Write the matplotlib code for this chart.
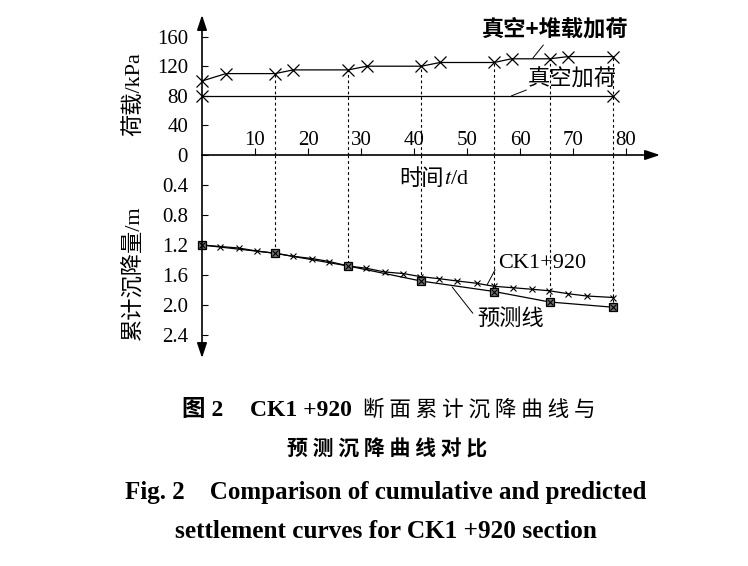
import numpy as np
import matplotlib
matplotlib.use("Agg")
import matplotlib.pyplot as plt

plt.rcParams["font.family"] = ["Liberation Serif", "Noto Sans CJK SC"]
plt.rcParams["mathtext.fontset"] = "stix"

# load curves (kPa)
surcharge_t = [0, 4.5, 13.8, 17.2, 27.6, 31.1, 41.4, 44.9, 55.1, 58.4, 65.6, 69.1, 77.6]
surcharge_p = [100, 110, 110, 115, 115, 120, 120, 125, 125, 130, 130, 133, 133]
vacuum_t = [0, 77.6]
vacuum_p = [80, 80]

# measured settlement CK1+920 (m)
meas_t = [0, 3.4, 6.9, 10.3, 13.8, 17.1, 20.7, 24.0, 27.6, 31.0, 34.5, 37.9,
          41.1, 44.8, 48.2, 51.8, 55.0, 58.7, 62.2, 65.5, 69.1, 72.6, 77.6]
meas_s = [1.20, 1.22, 1.24, 1.28, 1.31, 1.35, 1.38, 1.42, 1.48, 1.51, 1.56, 1.58,
          1.62, 1.65, 1.68, 1.71, 1.75, 1.77, 1.79, 1.81, 1.85, 1.88, 1.90]

# predicted settlement (m)
pred_t = [0, 13.8, 27.6, 41.3, 55.1, 65.6, 77.6]
pred_s = [1.20, 1.31, 1.48, 1.68, 1.82, 1.96, 2.03]

x_ticks = [10, 20, 30, 40, 50, 60, 70, 80]
p_ticks = [0, 40, 80, 120, 160]
s_ticks = [0.4, 0.8, 1.2, 1.6, 2.0, 2.4]

W, H = 748, 566
fig = plt.figure(figsize=(W / 100, H / 100), dpi=100)

x0, x1 = 202, 660
ax1 = fig.add_axes([x0 / W, 1 - 155 / H, (x1 - x0) / W, 140 / H])
ax2 = fig.add_axes([x0 / W, 1 - 358 / H, (x1 - x0) / W, 203 / H])

for ax in (ax1, ax2):
    ax.set_xlim(0, (x1 - x0) / 5.3)
    for s in ax.spines.values():
        s.set_visible(False)
    ax.patch.set_alpha(0)

ax1.set_ylim(0, 140 / 0.74)
ax2.set_ylim(203 / 75, 0)

# axis lines with arrow heads
arrow = dict(arrowstyle="-|>,head_length=0.9,head_width=0.3", color="k", lw=1.2,
             shrinkA=0, shrinkB=0)
ax1.annotate("", xy=(1, 0), xytext=(0, 0), xycoords="axes fraction", arrowprops=arrow)
ax1.annotate("", xy=(0, 1), xytext=(0, 0), xycoords="axes fraction", arrowprops=arrow)
ax2.annotate("", xy=(0, 0), xytext=(0, 1), xycoords="axes fraction", arrowprops=arrow)

# ticks
ax1.set_xticks(x_ticks)
ax1.tick_params(axis="x", direction="in", length=5, pad=-17, labelsize=15)
ax1.set_yticks(p_ticks)
ax1.tick_params(axis="y", direction="in", length=4, pad=10, labelsize=15)
ax2.set_xticks([])
ax2.set_yticks(s_ticks)
ax2.set_yticklabels([f"{v:.1f}" for v in s_ticks])
ax2.tick_params(axis="y", direction="in", length=4, pad=10, labelsize=15)

# load curves
ax1.plot(surcharge_t, surcharge_p, color="k", lw=0.9, marker="x", ms=8, mew=0.9, clip_on=False)
ax1.plot(vacuum_t, vacuum_p, color="k", lw=0.9, marker="x", ms=8, mew=0.9, clip_on=False)

# dashed guides
guide_t = pred_t[1:]
ax1.vlines(guide_t, 0, np.interp(guide_t, surcharge_t, surcharge_p),
           colors="k", linestyles=(0, (2.5, 2.5)), lw=0.8)
ax2.vlines(guide_t, 0, pred_s[1:], colors="k", linestyles=(0, (2.5, 2.5)), lw=0.8)

# settlement curves
ax2.plot(meas_t, meas_s, color="k", lw=0.9, marker="x", ms=4, mew=0.8, clip_on=False)
ax2.plot(pred_t, pred_s, color="k", lw=0.9, marker="s", ms=6, mfc="0.45", mec="k",
         mew=0.9, clip_on=False)
ax2.plot(pred_t, pred_s, ls="none", marker="x", ms=5, color="k", mew=0.8, clip_on=False)

# labels and leader lines
line = dict(arrowstyle="-", color="k", lw=0.7, shrinkA=0, shrinkB=0)
ax1.text(52.8, 170, "真空+堆载加荷", fontsize=16, fontweight="bold", ha="left", va="center",
         family=["Noto Sans CJK SC"])
ax1.annotate("", xy=(62.4, 130.7), xytext=(64.4, 148.6), arrowprops=line)
ax1.text(61.5, 101, "真空加荷", fontsize=16, ha="left", va="center")
ax1.annotate("", xy=(58.4, 80), xytext=(61.2, 87.8), arrowprops=line)
ax2.text(55.8, 1.44, "CK1+920", fontsize=16, ha="left", va="center")
ax2.annotate("", xy=(53.8, 1.73), xytext=(55.3, 1.53), arrowprops=line)
ax2.text(51.9, 2.2, "预测线", fontsize=16, ha="left", va="center")
ax2.annotate("", xy=(47.2, 1.76), xytext=(51.1, 2.11), arrowprops=line)
ax2.text(45.7, 0.33, "时间", fontsize=16, ha="right", va="center")
ax2.text(45.7, 0.33, "$t$/d", fontsize=16, ha="left", va="center")

fig.text(134 / W, 1 - 94 / H, "荷载/kPa", rotation=90, ha="center", va="center", fontsize=16)
fig.text(134 / W, 1 - 273 / H, "累计沉降量/m", rotation=90, ha="center", va="center", fontsize=16)

# captions
fig.text(182 / W, 1 - 410 / H, "图 2", ha="left", va="center", fontsize=17, fontweight="bold")
fig.text(250 / W, 1 - 410 / H, "CK1 +920", ha="left", va="center", fontsize=17, fontweight="bold")
fig.text(363 / W, 1 - 410 / H, "断 面 累 计 沉 降 曲 线 与", ha="left", va="center",
         fontsize=15.5, family=["Noto Sans CJK SC"])
fig.text(387 / W, 1 - 449 / H, "预 测 沉 降 曲 线 对 比", ha="center", va="center",
         fontsize=15, fontweight="bold", family=["Noto Sans CJK SC"])
fig.text(386 / W, 1 - 492 / H, "Fig. 2    Comparison of cumulative and predicted",
         ha="center", va="center", fontsize=18, fontweight="bold")
fig.text(386 / W, 1 - 531 / H, "settlement curves for CK1 +920 section",
         ha="center", va="center", fontsize=18.2, fontweight="bold")

fig.savefig("out.png", dpi=100)
